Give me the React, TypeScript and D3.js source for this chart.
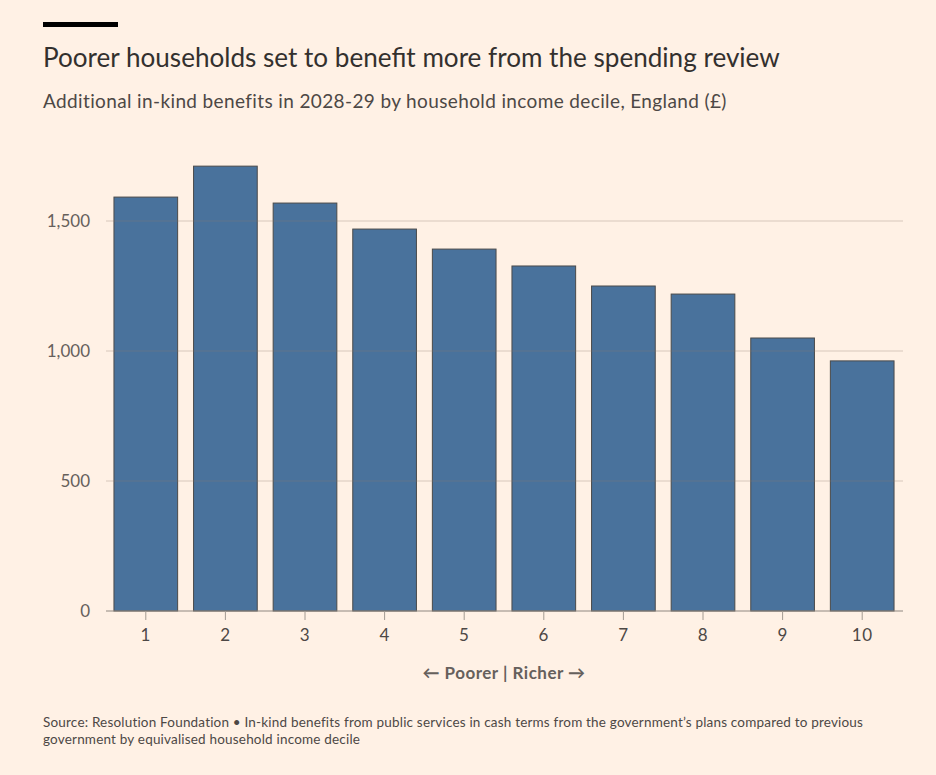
import React, { useEffect, useRef } from "react";
import * as d3 from "d3";

const deciles = ["1", "2", "3", "4", "5", "6", "7", "8", "9", "10"];
const benefits = [1592, 1711, 1569, 1469, 1392, 1327, 1250, 1219, 1050, 962];
const yTicks = [0, 500, 1000, 1500];

const title = "Poorer households set to benefit more from the spending review";
const subtitle = "Additional in-kind benefits in 2028-29 by household income decile, England (£)";
const xLabel = "← Poorer | Richer →";
const sourceLines = [
  "Source: Resolution Foundation • In-kind benefits from public services in cash terms from the government’s plans compared to previous",
  "government by equivalised household income decile",
];

const W = 936;
const H = 775;
const FONT = "Lato, 'Open Sans', sans-serif";

export default function App() {
  const svgRef = useRef<SVGSVGElement | null>(null);

  useEffect(() => {
    document.body.style.margin = "0";
    if (!svgRef.current) return;
    const svg = d3.select(svgRef.current);
    svg.selectAll("*").remove();

    svg.append("rect").attr("width", W).attr("height", H).attr("fill", "#fff1e5");

    // header
    svg.append("rect").attr("x", 43).attr("y", 22).attr("width", 75).attr("height", 5).attr("fill", "#000");
    svg.append("text")
      .attr("x", 43).attr("y", 67)
      .attr("font-family", FONT).attr("font-size", 26.1)
      .attr("fill", "#33302e")
      .text(title);
    svg.append("text")
      .attr("x", 43).attr("y", 108)
      .attr("font-family", FONT).attr("font-size", 19)
      .attr("letter-spacing", 0.37)
      .attr("fill", "#4d4845")
      .text(subtitle);

    const x = d3.scaleBand<string>().domain(deciles).range([106, 902]).paddingInner(0.2).paddingOuter(0.1);
    const y = d3.scaleLinear().domain([0, 1750]).range([611, 156]);

    // bars
    svg.append("g")
      .selectAll("rect")
      .data(benefits)
      .enter()
      .append("rect")
      .attr("x", (_, i) => x(deciles[i])!)
      .attr("y", (d) => y(d))
      .attr("width", x.bandwidth())
      .attr("height", (d) => y(0) - y(d))
      .attr("fill", "#49729c")
      .attr("stroke", "#4a4a4a")
      .attr("stroke-width", 1);

    // gridlines over bars
    const grid = svg.append("g");
    yTicks.forEach((t) => {
      if (t === 0) return;
      grid.append("line")
        .attr("x1", 106).attr("x2", 903)
        .attr("y1", y(t)).attr("y2", y(t))
        .attr("stroke", "#8a7a6e").attr("stroke-opacity", 0.35).attr("stroke-width", 1);
    });
    // baseline
    svg.append("line")
      .attr("x1", 106).attr("x2", 903)
      .attr("y1", y(0)).attr("y2", y(0))
      .attr("stroke", "#8f8780").attr("stroke-width", 1);

    // y tick labels
    svg.append("g")
      .selectAll("text")
      .data(yTicks)
      .enter()
      .append("text")
      .attr("x", 90)
      .attr("y", (d) => y(d) + 6)
      .attr("text-anchor", "end")
      .attr("font-family", FONT).attr("font-size", 17)
      .attr("fill", "#66605c")
      .text((d) => d3.format(",")(d));

    // x ticks
    const xt = svg.append("g");
    deciles.forEach((d) => {
      const cx = x(d)! + x.bandwidth() / 2;
      xt.append("line")
        .attr("x1", cx).attr("x2", cx)
        .attr("y1", y(0)).attr("y2", y(0) + 9)
        .attr("stroke", "#a39a92").attr("stroke-width", 1);
      xt.append("text")
        .attr("x", cx).attr("y", 641)
        .attr("text-anchor", "middle")
        .attr("font-family", FONT).attr("font-size", 17)
        .attr("letter-spacing", 0.5)
        .attr("fill", "#4d4845")
        .text(d);
    });

    svg.append("text")
      .attr("x", 504).attr("y", 679)
      .attr("text-anchor", "middle")
      .attr("font-family", FONT).attr("font-size", 17).attr("font-weight", "bold")
      .attr("letter-spacing", 0.5)
      .attr("fill", "#66605c")
      .text(xLabel);

    sourceLines.forEach((line, i) => {
      svg.append("text")
        .attr("x", 43).attr("y", 727 + i * 17)
        .attr("font-family", FONT).attr("font-size", 13.5)
        .attr("letter-spacing", 0.19)
        .attr("fill", "#4d4845")
        .text(line);
    });
  }, []);

  return <svg ref={svgRef} width={W} height={H} style={{ display: "block" }} />;
}
